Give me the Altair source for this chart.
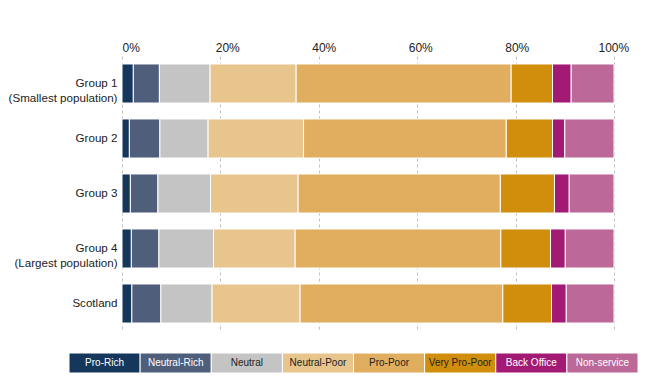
import altair as alt
import pandas as pd

groups = ["Group 1\n(Smallest population)", "Group 2", "Group 3",
          "Group 4\n(Largest population)", "Scotland"]
categories = ["Pro-Rich", "Neutral-Rich", "Neutral", "Neutral-Poor", "Pro-Poor",
              "Very Pro-Poor", "Back Office", "Non-service"]
colors = ["#15375b", "#4f5e7b", "#c4c4c4", "#e8c58c", "#e1ae5f", "#d08e0c", "#a31a74", "#bc6899"]
text_colors = ["#ffffff", "#ffffff", "#222222", "#222222", "#222222", "#222222", "#ffffff", "#ffffff"]

group1 = [2.3, 5.3, 10.3, 17.5, 43.7, 8.4, 3.8, 8.7]
group2 = [1.5, 6.2, 9.8, 19.4, 41.2, 9.4, 2.5, 10.0]
group3 = [1.7, 5.6, 10.7, 17.8, 41.1, 11.0, 3.0, 9.1]
group4 = [1.9, 5.6, 11.1, 16.6, 41.8, 10.1, 3.0, 9.9]
scotland = [2.0, 5.9, 10.4, 17.9, 41.2, 9.9, 3.0, 9.7]
tick_values = [0, 20, 40, 60, 80, 100]

series = [group1, group2, group3, group4, scotland]
rows = []
for g, vals in zip(groups, series):
    for i, (c, v) in enumerate(zip(categories, vals)):
        rows.append({"group": g, "category": c, "order": i, "value": v})
df = pd.DataFrame(rows)

FONT = "Liberation Sans"
color_scale = alt.Scale(domain=categories, range=colors)

bars = alt.Chart(df).mark_bar(stroke="white", strokeWidth=1).encode(
    x=alt.X("value:Q", stack="zero",
            scale=alt.Scale(domain=[0, 100], nice=False),
            axis=alt.Axis(orient="top", values=tick_values, title=None,
                          labelExpr="datum.value + '%'",
                          grid=True, gridDash=[3, 3], gridColor="#c0c0c0",
                          domain=False, ticks=False, labelPadding=2,
                          labelFlush=False,
                          labelOffset=alt.ExprRef("8.7 - 0.094*datum.value"),
                          labelFont=FONT, labelFontSize=12, labelColor="#222222")),
    y=alt.Y("group:N", sort=groups, title=None,
            scale=alt.Scale(paddingInner=0.29, paddingOuter=0.145),
            axis=alt.Axis(domain=False, ticks=False, labelPadding=5,
                          labelExpr="split(datum.label, '\\n')",
                          labelLineHeight=15, labelFont=FONT, labelFontSize=11.6,
                          labelColor="#222222", labelLimit=300)),
    color=alt.Color("category:N", scale=color_scale, legend=None),
    order=alt.Order("order:Q"),
).properties(width=492, height=275)

leg_df = pd.DataFrame({"category": categories, "tc": text_colors})
leg_base = alt.Chart(leg_df).encode(
    x=alt.X("category:N", sort=categories, title=None, axis=None,
            scale=alt.Scale(range=[-53, 516], paddingInner=0, paddingOuter=0)),
)
leg_rect = leg_base.mark_rect(stroke="white", strokeWidth=1).encode(
    color=alt.Color("category:N", scale=color_scale, legend=None)
)
leg_text = leg_base.mark_text(font=FONT, fontSize=10).encode(
    text="category:N",
    color=alt.Color("tc:N", scale=None),
)
legend = alt.layer(leg_rect, leg_text).properties(width=492, height=20)

chart = alt.vconcat(bars, legend, spacing=21).properties(
    padding={"top": 33, "left": 0, "right": 0, "bottom": 5}
).configure_view(strokeWidth=0).resolve_scale(color="independent")

chart.save("out.html", embed_options={"renderer": "svg", "actions": False})
